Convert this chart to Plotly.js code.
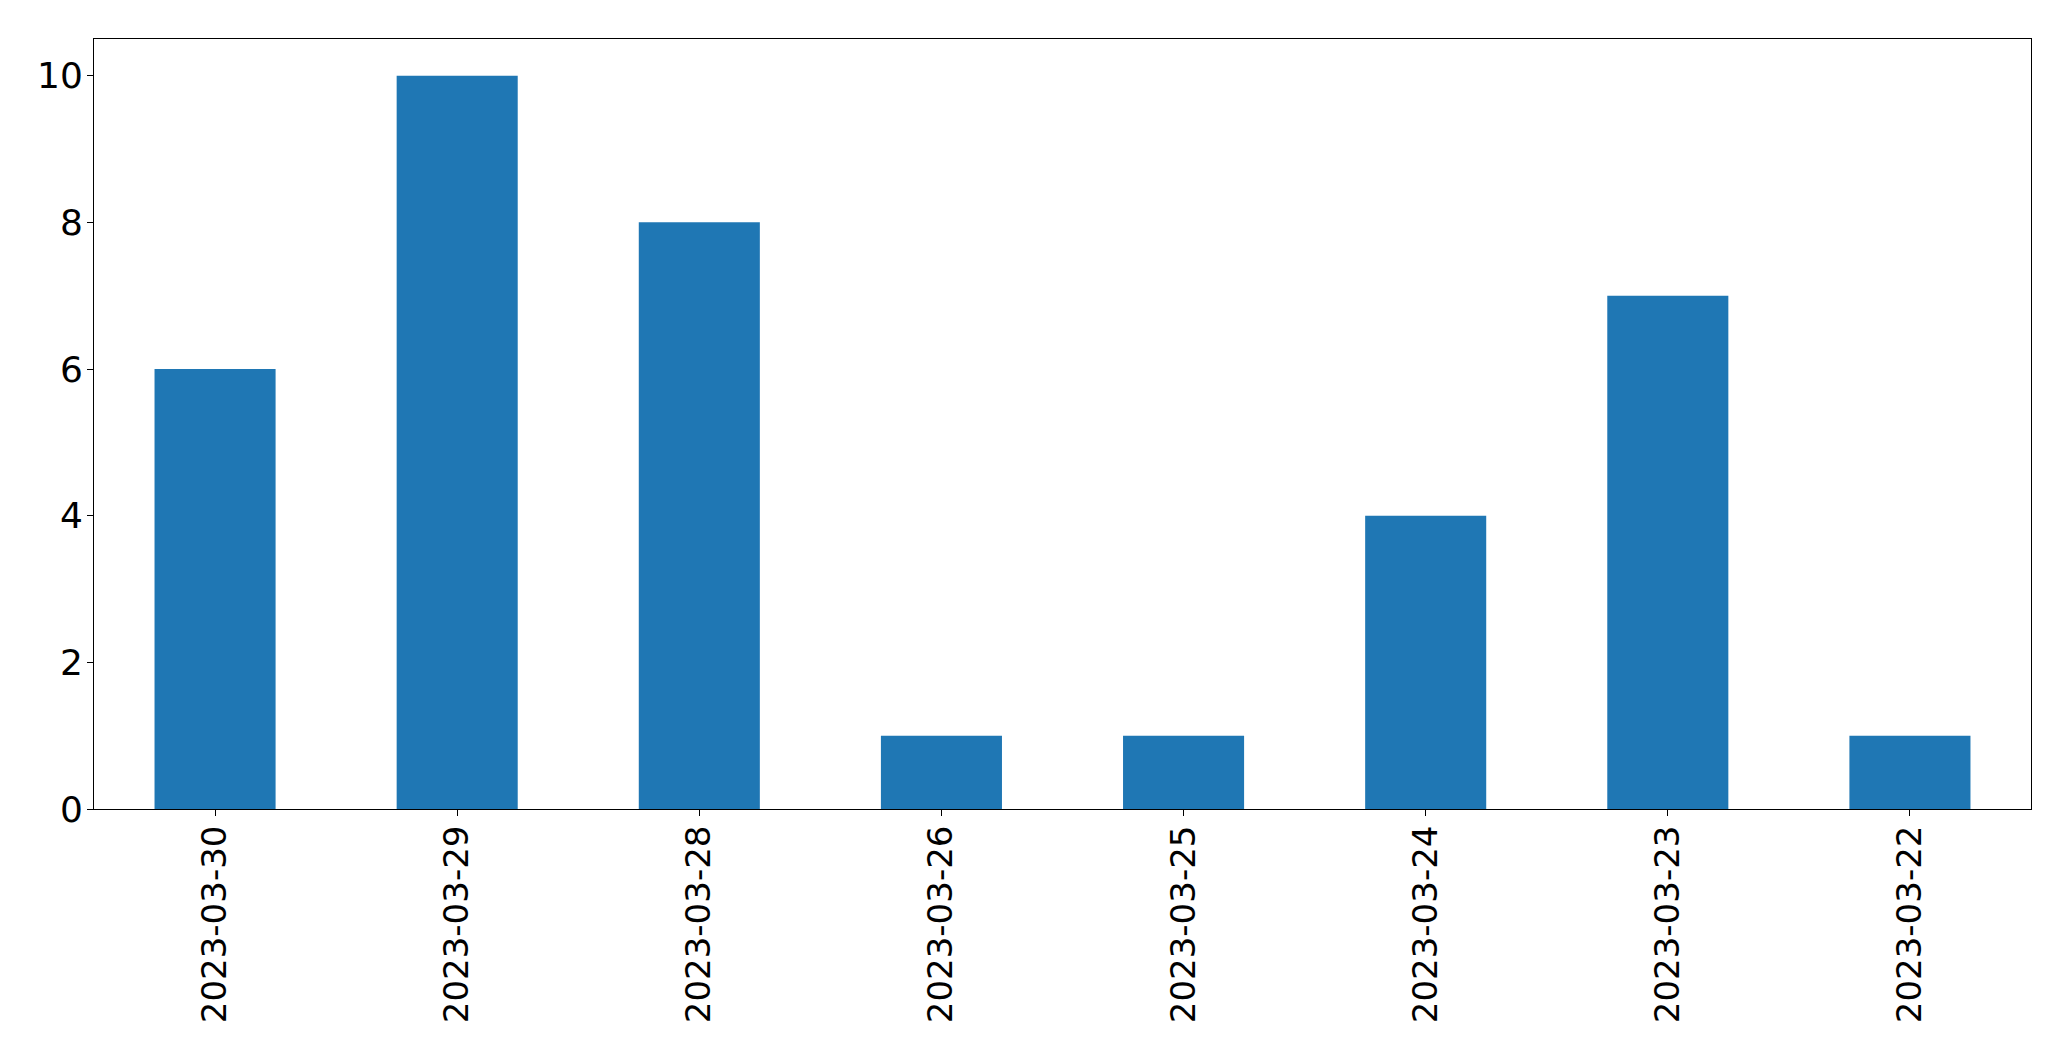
<!DOCTYPE html>
<html>
<head>
<meta charset="utf-8">
<script src="https://cdn.plot.ly/plotly-3.0.1.min.js"></script>
<style>html,body{margin:0;padding:0;background:#fff;}#chart{width:2071px;height:1061px;}</style>
</head>
<body>
<div id="chart"></div>
<script>
const dates = ["2023-03-30","2023-03-29","2023-03-28","2023-03-26","2023-03-25","2023-03-24","2023-03-23","2023-03-22"];
const counts = [6, 10, 8, 1, 1, 4, 7, 1];
const yTicks = [0, 2, 4, 6, 8, 10];

const trace = {
  type: 'bar',
  x: dates,
  y: counts,
  width: 0.5,
  marker: {color: '#1f77b4', line: {width: 0}},
  hoverinfo: 'x+y'
};

const xfont = {family: 'DejaVu Sans, sans-serif', size: 34, color: '#000'};
const yfont = {family: 'DejaVu Sans, sans-serif', size: 36, color: '#000'};

const layout = {
  width: 2071,
  height: 1061,
  margin: {l: 94, r: 40, t: 39, b: 252, pad: 0},
  paper_bgcolor: '#fff',
  plot_bgcolor: '#fff',
  showlegend: false,
  font: xfont,
  bargap: 0.5,
  xaxis: {
    type: 'category',
    range: [-0.5, 7.5],
    tickangle: -90,
    ticks: 'outside',
    ticklen: 6,
    tickwidth: 1,
    tickcolor: '#000',
    showline: true,
    linecolor: '#000',
    linewidth: 1,
    mirror: true,
    showgrid: false,
    zeroline: false,
    tickfont: xfont,
    ticklabelstandoff: -4
  },
  yaxis: {
    range: [0, 10.5],
    tickmode: 'array',
    tickvals: yTicks,
    ticktext: yTicks.map(String),
    ticks: 'outside',
    ticklen: 6,
    tickwidth: 1,
    tickcolor: '#000',
    showline: true,
    linecolor: '#000',
    linewidth: 1,
    mirror: true,
    showgrid: false,
    zeroline: false,
    tickfont: yfont,
    ticklabelstandoff: -3
  }
};

Plotly.newPlot('chart', [trace], layout, {displayModeBar: false, staticPlot: true});
</script>
</body>
</html>
